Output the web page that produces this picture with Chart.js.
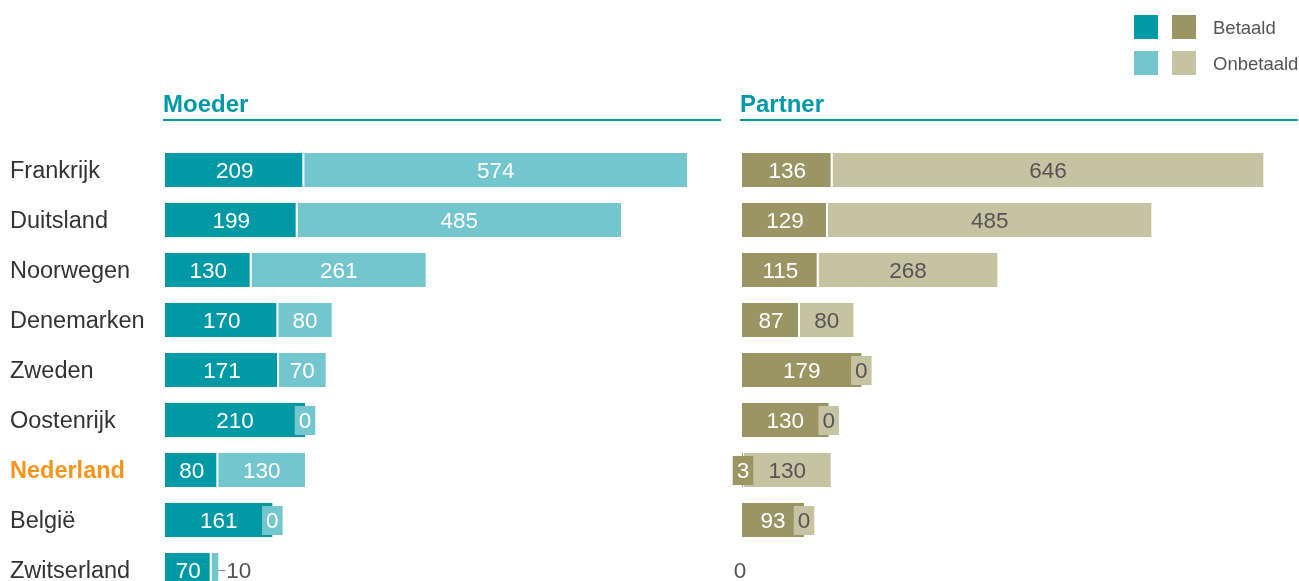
<!DOCTYPE html>
<html>
<head>
<meta charset="utf-8">
<script src="https://cdn.jsdelivr.net/npm/chart.js@4"></script>
<style>
  html, body { margin: 0; padding: 0; background: #fff; overflow: hidden; }
  #wrap { position: relative; width: 1299px; height: 581px; overflow: hidden; }
  canvas { position: absolute; top: 0; }
  #moederChart { left: 0; }
  #partnerChart { left: 730px; }
  .sw { position: absolute; width: 24px; height: 24px; }
  .lg { position: absolute; font: 18.5px "Liberation Sans", Arial, sans-serif; color: #555; }
</style>
</head>
<body>
<div id="wrap">
  <canvas id="moederChart" width="730" height="620"></canvas>
  <canvas id="partnerChart" width="569" height="620"></canvas>
  <div class="sw" style="left:1134px;top:15px;background:#0099a5"></div>
  <div class="sw" style="left:1172px;top:15px;background:#9a9563"></div>
  <div class="sw" style="left:1134px;top:51px;background:#73c6cd"></div>
  <div class="sw" style="left:1172px;top:51px;background:#c6c3a3"></div>
  <div class="lg" style="left:1213px;top:17px">Betaald</div>
  <div class="lg" style="left:1213px;top:53px">Onbetaald</div>
</div>
<script>
const categories = ['Frankrijk', 'Duitsland', 'Noorwegen', 'Denemarken', 'Zweden', 'Oostenrijk', 'Nederland', 'België', 'Zwitserland'];
const moederBetaald = [209, 199, 130, 170, 171, 210, 80, 161, 70];
const moederOnbetaald = [574, 485, 261, 80, 70, 0, 130, 0, 10];
const partnerBetaald = [136, 129, 115, 87, 179, 130, 3, 93, 0];
const partnerOnbetaald = [646, 485, 268, 80, 0, 0, 130, 0, 0];

const FONT = '"Liberation Sans", Arial, sans-serif';
const TEAL = '#0099a5';

// value labels: inside when they fit, otherwise a small box or an outside label
const valueLabels = {
  id: 'valueLabels',
  afterDatasetsDraw(chart, args, opts) {
    const c = chart.ctx;
    const n = chart.data.labels.length;
    c.save();
    c.font = '22.5px ' + FONT;
    c.textAlign = 'center';
    c.textBaseline = 'middle';
    for (let j = 0; j < n; j++) {
      const total = chart.data.datasets.reduce((s, d) => s + d.data[j], 0);
      if (total === 0) {
        const y = chart.getDatasetMeta(0).data[j].y;
        c.fillStyle = '#555';
        c.fillText('0', chart.chartArea.left - 2, y + 2);
        continue;
      }
      chart.data.datasets.forEach((ds, i) => {
        const bar = chart.getDatasetMeta(i).data[j];
        const v = ds.data[j];
        const txt = String(v);
        const tw = c.measureText(txt).width;
        const w = Math.abs(bar.x - bar.base);
        const cx = (bar.x + bar.base) / 2;
        if (w >= tw + 8) {
          c.fillStyle = opts.textColors[i];
          c.fillText(txt, cx, bar.y + 2);
        } else if (v > 0 && i === 1) {
          c.strokeStyle = '#888';
          c.lineWidth = 1;
          c.beginPath();
          c.moveTo(bar.x, bar.y + 0.5);
          c.lineTo(bar.x + 7, bar.y + 0.5);
          c.stroke();
          c.fillStyle = '#555';
          c.textAlign = 'left';
          c.fillText(txt, bar.x + 8, bar.y + 2);
          c.textAlign = 'center';
        } else {
          const bw = tw + 8;
          c.fillStyle = ds.backgroundColor;
          c.fillRect(cx - bw / 2, bar.y - 14, bw, 29);
          c.fillStyle = opts.textColors[i];
          c.fillText(txt, cx, bar.y + 2);
        }
      });
    }
    c.restore();
  }
};

// panel title with underline
const panelTitle = {
  id: 'panelTitle',
  afterDraw(chart, args, opts) {
    const c = chart.ctx;
    const a = chart.chartArea;
    c.save();
    c.fillStyle = TEAL;
    c.font = 'bold 24px ' + FONT;
    c.textAlign = 'left';
    c.textBaseline = 'alphabetic';
    c.fillText(opts.text, a.left - 2, 112);
    c.fillRect(a.left - 2, 119, a.right - a.left + 2, 2);
    c.restore();
  }
};

function makeChart(id, title, betaald, onbetaald, colors, textColors, showLabels) {
  const ctx = document.getElementById(id).getContext('2d');
  return new Chart(ctx, {
    type: 'bar',
    data: {
      labels: categories,
      datasets: [{
        label: 'Betaald',
        data: betaald,
        backgroundColor: colors[0],
        borderColor: '#fff',
        borderSkipped: false,
        borderWidth: (c) => onbetaald[c.dataIndex] > 0 && betaald[c.dataIndex] > 0 ? { top: 0, bottom: 0, left: 0, right: 2 } : 0
      }, {
        label: 'Onbetaald',
        data: onbetaald,
        backgroundColor: colors[1],
        borderWidth: 0
      }]
    },
    options: {
      indexAxis: 'y',
      responsive: false,
      animation: false,
      barPercentage: 0.68,
      categoryPercentage: 1,
      layout: { padding: { left: showLabels ? 10 : 12, right: showLabels ? 9 : 1, top: 145, bottom: 25 } },
      scales: {
        x: { stacked: true, min: 0, max: 834, display: false },
        y: {
          stacked: true,
          display: showLabels,
          grid: { display: false },
          border: { display: false },
          afterFit: (scale) => { scale.width = showLabels ? 155 : 0; },
          ticks: {
            crossAlign: 'far',
            padding: 0,
            labelOffset: 2,
            color: (c) => c.tick && c.tick.label === 'Nederland' ? '#f7941d' : '#333',
            font: (c) => ({
              family: FONT,
              size: 23.5,
              weight: c.tick && c.tick.label === 'Nederland' ? 'bold' : 'normal'
            })
          }
        }
      },
      plugins: {
        legend: { display: false },
        tooltip: { enabled: false },
        valueLabels: { textColors: textColors },
        panelTitle: { text: title }
      }
    },
    plugins: [valueLabels, panelTitle]
  });
}

const moederChart = makeChart('moederChart', 'Moeder', moederBetaald, moederOnbetaald,
  ['#0099a5', '#73c6cd'], ['#fff', '#fff'], true);
const partnerChart = makeChart('partnerChart', 'Partner', partnerBetaald, partnerOnbetaald,
  ['#9a9563', '#c6c3a3'], ['#fff', '#555'], false);
</script>
</body>
</html>
